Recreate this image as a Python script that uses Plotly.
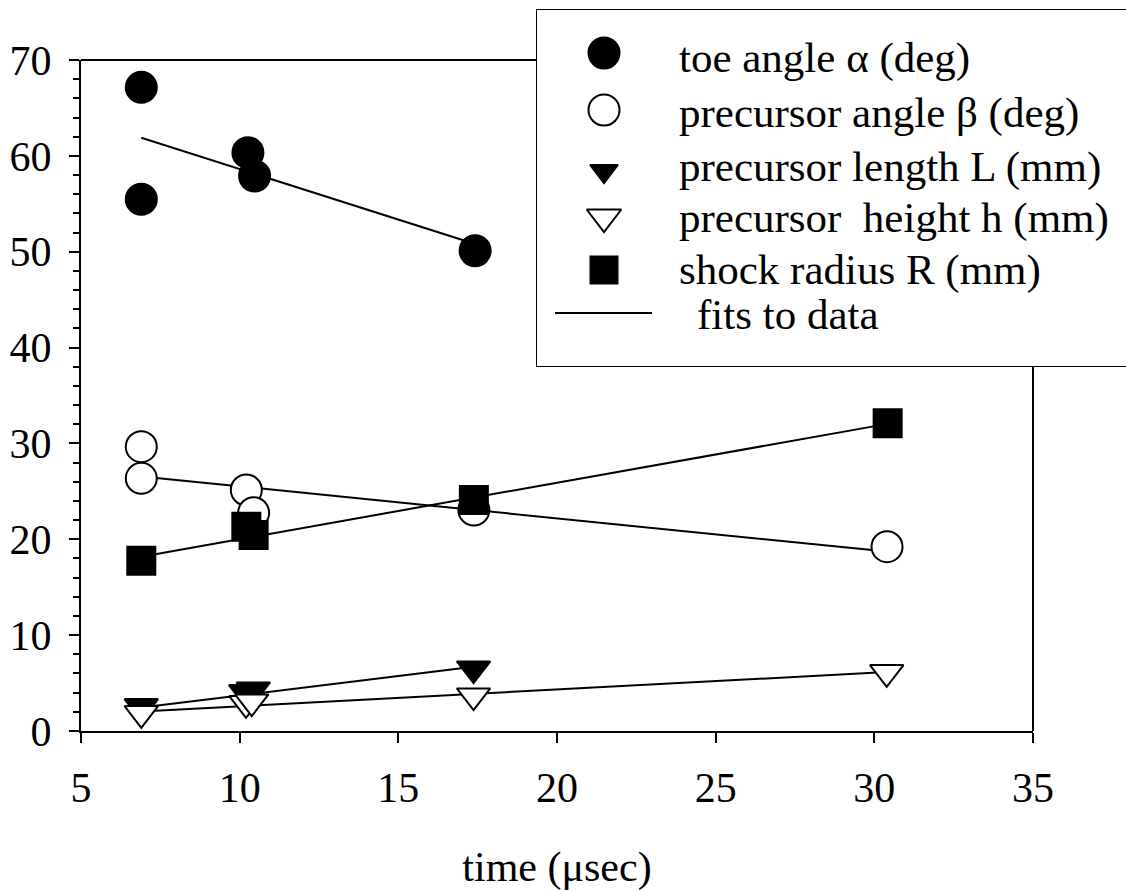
import plotly.graph_objects as go

# ---------------- data ----------------
t_toe = [6.9, 6.9, 10.26, 10.47, 17.42]
toe_angle = [67.15, 55.47, 60.33, 57.9, 50.1]

t_beta = [6.9, 6.9, 10.21, 10.44, 17.38, 30.4]
prec_angle = [29.66, 26.36, 25.14, 22.77, 23.05, 19.23]

t_L = [6.9, 10.19, 10.43, 17.37]
prec_length = [2.57, 4.03, 4.31, 6.5]

t_h = [6.9, 10.2, 10.38, 17.37, 30.39]
prec_height = [1.85, 2.89, 3.06, 3.68, 6.12]

t_R = [6.9, 10.21, 10.44, 17.38, 30.42]
shock_radius = [17.77, 21.31, 20.45, 24.1, 32.1]

# fitted lines (end points)
fit_toe_t = [6.9, 17.42]
fit_toe_v = [61.89, 50.8]
fit_beta_t = [6.9, 30.4]
fit_beta_v = [26.55, 18.72]
fit_R_t = [6.9, 30.42]
fit_R_v = [18.18, 32.04]
fit_L_t = [6.9, 17.37]
fit_L_v = [2.46, 6.7]
fit_h_t = [6.9, 30.39]
fit_h_v = [2.04, 6.15]

x_ticks = [5, 10, 15, 20, 25, 30, 35]
y_ticks = [0, 10, 20, 30, 40, 50, 60, 70]

legend_labels = [
    "toe angle \u03b1 (deg)",
    "precursor angle \u03b2 (deg)",
    "precursor length L (mm)",
    "precursor\u00a0 height h (mm)",
    "shock radius R (mm)",
    "fits to data",
]

FONT = "Liberation Serif, Times New Roman, serif"
BLACK = "black"
WHITE = "white"

fig = go.Figure()

# fit lines (under markers)
for ft, fv in [(fit_toe_t, fit_toe_v), (fit_beta_t, fit_beta_v), (fit_R_t, fit_R_v),
               (fit_L_t, fit_L_v), (fit_h_t, fit_h_v)]:
    fig.add_trace(go.Scatter(x=ft, y=fv, mode="lines",
                             line=dict(color=BLACK, width=2), showlegend=False,
                             hoverinfo="skip"))

# markers
fig.add_trace(go.Scatter(x=t_toe, y=toe_angle, mode="markers", showlegend=False,
                         marker=dict(symbol="circle", size=31, color=BLACK,
                                     line=dict(color=BLACK, width=2))))
fig.add_trace(go.Scatter(x=t_beta, y=prec_angle, mode="markers", showlegend=False,
                         marker=dict(symbol="circle", size=31, color=WHITE,
                                     line=dict(color=BLACK, width=2))))
fig.add_trace(go.Scatter(x=t_R, y=shock_radius, mode="markers", showlegend=False,
                         marker=dict(symbol="square", size=28, color=BLACK,
                                     line=dict(color=BLACK, width=2))))
fig.add_trace(go.Scatter(x=t_L, y=prec_length, mode="markers", showlegend=False,
                         marker=dict(symbol="triangle-down", size=29, color=BLACK,
                                     line=dict(color=BLACK, width=2))))
fig.add_trace(go.Scatter(x=t_h, y=prec_height, mode="markers", showlegend=False,
                         marker=dict(symbol="triangle-down", size=29, color=WHITE,
                                     line=dict(color=BLACK, width=2))))

# ---------------- hand-drawn legend (overlay axes in pixel units) ----------------
leg_x_marker = 604
leg_rows = [53, 110, 171, 217, 270]
leg_symbols = ["circle", "circle", "triangle-down", "triangle-down", "square"]
leg_fill = [BLACK, WHITE, BLACK, WHITE, BLACK]
leg_sizes = [31, 31, 24, 30, 27]
for row, sym, fc, sz in zip(leg_rows, leg_symbols, leg_fill, leg_sizes):
    fig.add_trace(go.Scatter(x=[leg_x_marker], y=[row], xaxis="x2", yaxis="y2",
                             mode="markers", showlegend=False, hoverinfo="skip",
                             marker=dict(symbol=sym, size=sz, color=fc,
                                         line=dict(color=BLACK, width=2))))
fig.add_trace(go.Scatter(x=[555, 652], y=[313, 313], xaxis="x2", yaxis="y2",
                         mode="lines", showlegend=False, hoverinfo="skip",
                         line=dict(color=BLACK, width=2)))

leg_text_x = [677, 677, 677, 677, 677, 695]
leg_text_y = [58, 113, 167, 218, 270, 314]
for lab, tx, ty in zip(legend_labels, leg_text_x, leg_text_y):
    fig.add_annotation(x=tx, y=ty, xref="x2", yref="y2", text=lab,
                       showarrow=False, xanchor="left", yanchor="middle",
                       font=dict(family=FONT, size=43, color=BLACK))

W, H = 1126, 891
ML, MB = 81, 160
plot_right = 1033
plot_top = 60
paper_w = W - ML
paper_h = H - MB
x_dom_end = (plot_right - ML) / paper_w
y_dom_end = (paper_h - plot_top) / paper_h

leg_left, leg_top, leg_bottom = 537, 10, 366

axis_common = dict(showgrid=False, zeroline=False, showline=True, linecolor=BLACK,
                   linewidth=2, ticks="outside", tickcolor=BLACK, tickwidth=2,
                   ticklen=10, tickfont=dict(family=FONT, size=42, color=BLACK))

fig.update_layout(
    width=W, height=H,
    margin=dict(l=ML, r=0, t=0, b=MB, pad=0, autoexpand=False),
    paper_bgcolor=WHITE, plot_bgcolor=WHITE,
    showlegend=False,
    xaxis=dict(domain=[0, x_dom_end], range=[5, 35], tickvals=x_ticks,
               ticklabelstandoff=9,
               title=dict(text="time (\u03bcsec)", font=dict(family=FONT, size=42, color=BLACK),
                          standoff=42),
               **axis_common),
    yaxis=dict(domain=[0, y_dom_end], range=[0, 70], tickvals=y_ticks,
               minor=dict(dtick=2, ticks="outside", ticklen=6, tickwidth=2, tickcolor=BLACK),
               ticklabelstandoff=9,
               **axis_common),
    xaxis2=dict(domain=[(leg_left - ML) / paper_w, 1.0], range=[leg_left, W],
                anchor="y2", visible=False, fixedrange=True),
    yaxis2=dict(domain=[(paper_h - leg_bottom) / paper_h, (paper_h - leg_top) / paper_h],
                range=[leg_bottom, leg_top], anchor="x2", visible=False, fixedrange=True),
    shapes=[
        # top frame line up to the legend box
        dict(type="line", xref="x domain", yref="y domain", x0=0,
             x1=(leg_left - ML) / (plot_right - ML), y0=1, y1=1,
             line=dict(color=BLACK, width=2)),
        # right frame line below the legend box
        dict(type="line", xref="x domain", yref="y domain", x0=1, x1=1, y0=0,
             y1=(paper_h - leg_bottom) / (paper_h - plot_top),
             line=dict(color=BLACK, width=2)),
        # legend box
        dict(type="rect", xref="paper", yref="paper",
             x0=(leg_left - ML) / paper_w, x1=1.05,
             y0=(paper_h - leg_bottom) / paper_h, y1=(paper_h - leg_top) / paper_h,
             line=dict(color=BLACK, width=2), fillcolor="rgba(0,0,0,0)", layer="below"),
    ],
)

fig.write_html("out.html")
